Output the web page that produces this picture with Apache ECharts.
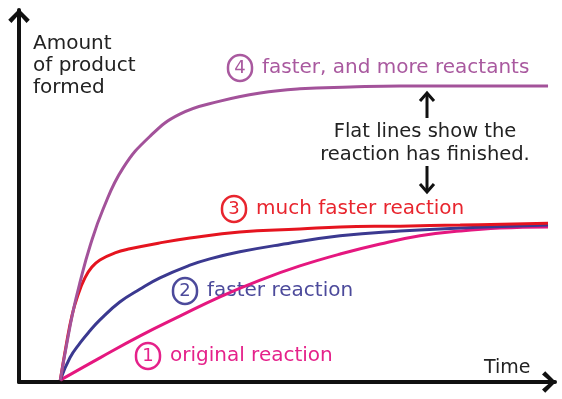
<!DOCTYPE html>
<html>
<head>
<meta charset="utf-8">
<script src="https://cdn.jsdelivr.net/npm/echarts@6.0.0/dist/echarts.min.js"></script>
<style>
  html, body { margin: 0; padding: 0; background: #fff; }
  #myChart { width: 562px; height: 399px; }
</style>
</head>
<body>
<div id="myChart"></div>
<script>
// time (x) and amount of product (y), arbitrary units 0-100
const time1 = [7.7, 15.1, 22.6, 30.0, 37.5, 45.0, 52.4, 59.9, 67.4, 74.8, 82.3, 89.7, 98.7];
const amount1 = [0.5, 6.5, 12.4, 17.7, 22.9, 27.4, 31.2, 34.4, 37.1, 39.3, 40.6, 41.4, 41.7];

const time2 = [7.7, 9.5, 11.4, 13.2, 15.1, 18.8, 22.6, 26.3, 31.9, 35.6, 41.2, 48.7, 59.9, 71.1, 82.3, 98.7];
const amount2 = [0.5, 6.5, 10.5, 13.7, 16.7, 21.5, 25.0, 28.0, 31.4, 33.1, 35.0, 36.9, 39.3, 40.6, 41.4, 42.2];

const time3 = [7.7, 8.8, 9.9, 11.0, 12.3, 13.6, 15.1, 17.9, 20.7, 26.3, 31.9, 41.2, 52.4, 59.9, 71.1, 82.3, 98.7];
const amount3 = [0.5, 9.9, 18.0, 23.4, 28.0, 30.9, 32.8, 34.7, 35.8, 37.4, 38.7, 40.3, 41.1, 41.7, 41.9, 42.2, 42.7];

const time4 = [7.7, 8.8, 10.1, 11.4, 13.2, 15.7, 19.4, 24.4, 30.0, 37.5, 45.0, 52.4, 61.8, 71.1, 98.7];
const amount4 = [0.5, 9.4, 19.1, 26.9, 36.3, 46.5, 57.5, 66.0, 72.0, 75.5, 77.7, 78.8, 79.3, 79.6, 79.6];

const reactionNames = ['original reaction', 'faster reaction', 'much faster reaction', 'faster, and more reactants'];
const reactionColors = ['#e5177f', '#3b3990', '#e5141f', '#a3529a'];
const labelColors = ['#e5218a', '#4c4a9b', '#e8252e', '#a9599f'];

const font = '"DejaVu Sans"';
const chevron = 'path://M0,10 L10,0 L20,10 L17,13 L10,5 L3,13 Z';

function pairs(xs, ys) {
  return xs.map((x, i) => [x, ys[i]]);
}

// circled number followed by the reaction name
function numbered(n, text, color) {
  return {
    type: 'text',
    style: {
      text: '{c|' + n + '}{s| }' + text,
      font: '20px ' + font,
      fill: color,
      verticalAlign: 'middle',
      rich: {
        c: {
          fill: color,
          font: '18px ' + font,
          width: 24,
          height: 26,
          align: 'center',
          borderColor: color,
          borderWidth: 2.5,
          borderRadius: 13
        },
        s: { width: 10 }
      }
    }
  };
}

let myChart = echarts.init(document.getElementById('myChart'));

const axisCommon = {
  type: 'value',
  min: 0,
  max: 100,
  axisTick: { show: false },
  axisLabel: { show: false },
  splitLine: { show: false },
  axisLine: {
    show: true,
    symbol: ['none', chevron],
    symbolSize: [22, 14],
    symbolOffset: [0, -6],
    lineStyle: { color: '#111', width: 4 }
  }
};

const seriesData = [pairs(time1, amount1), pairs(time2, amount2), pairs(time3, amount3), pairs(time4, amount4)];

let option = {
  animation: false,
  grid: { left: 19, right: 7, top: 10, bottom: 17 },
  xAxis: Object.assign({}, axisCommon),
  yAxis: Object.assign({}, axisCommon),
  series: seriesData.map((d, i) => ({
    name: reactionNames[i],
    type: 'line',
    data: d,
    smooth: 0.45,
    showSymbol: false,
    lineStyle: { color: reactionColors[i], width: 3 }
  })),
  graphic: [
    Object.assign(numbered(4, reactionNames[3], labelColors[3]), { x: 228, y: 68 }),
    Object.assign(numbered(3, reactionNames[2], labelColors[2]), { x: 222, y: 209 }),
    Object.assign(numbered(2, reactionNames[1], labelColors[1]), { x: 173, y: 291 }),
    Object.assign(numbered(1, reactionNames[0], labelColors[0]), { x: 136, y: 356 }),
    {
      type: 'text', x: 33, y: 33,
      style: { text: 'Amount\nof product\nformed', font: '20px ' + font, fill: '#222', lineHeight: 22 }
    },
    {
      type: 'text', x: 484, y: 368,
      style: { text: 'Time', font: '19px ' + font, fill: '#222', verticalAlign: 'middle' }
    },
    {
      type: 'text', x: 425, y: 143,
      style: {
        text: 'Flat lines show the\nreaction has finished.',
        font: '19.5px ' + font, fill: '#222', align: 'center', verticalAlign: 'middle', lineHeight: 23
      }
    },
    // arrows pointing at the flat parts
    { type: 'line', shape: { x1: 427, y1: 118, x2: 427, y2: 93 }, style: { stroke: '#111', lineWidth: 3 } },
    { type: 'polyline', shape: { points: [[420, 101], [427, 93], [434, 101]] }, style: { stroke: '#111', lineWidth: 3, fill: null } },
    { type: 'line', shape: { x1: 427, y1: 166, x2: 427, y2: 192 }, style: { stroke: '#111', lineWidth: 3 } },
    { type: 'polyline', shape: { points: [[420, 184], [427, 192], [434, 184]] }, style: { stroke: '#111', lineWidth: 3, fill: null } }
  ]
};

myChart.setOption(option);
</script>
</body>
</html>
